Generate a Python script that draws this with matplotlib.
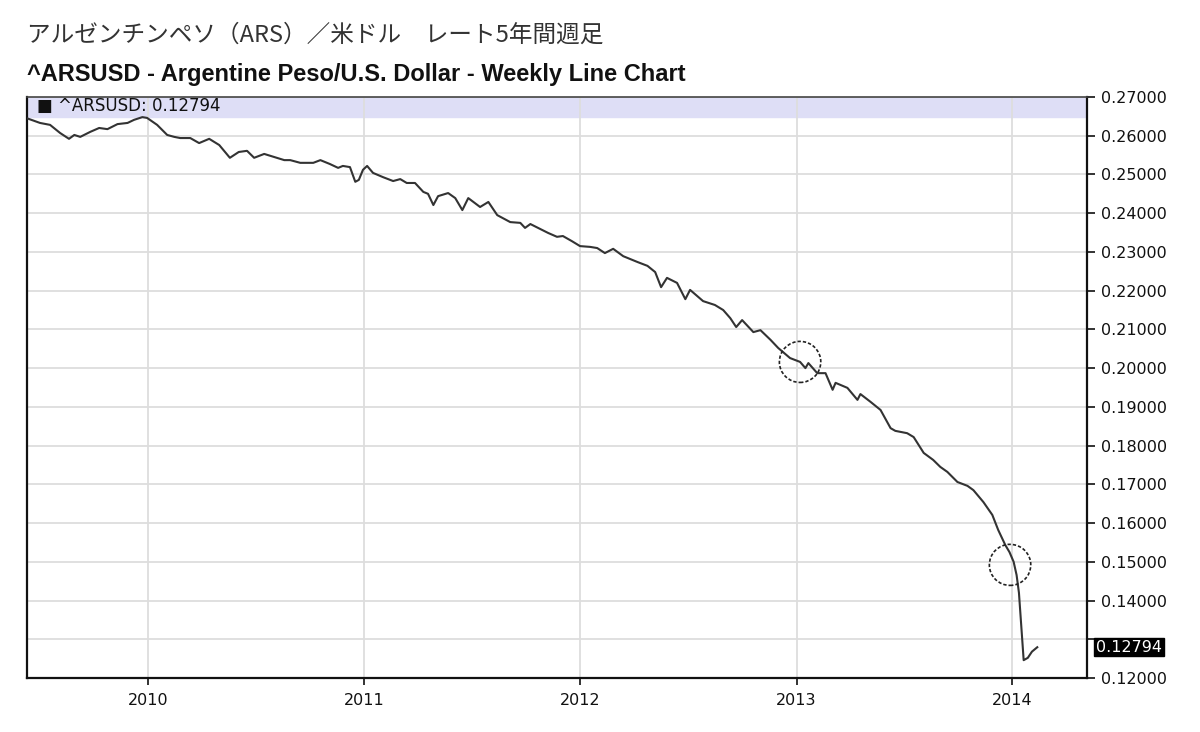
import matplotlib
matplotlib.use('Agg')
import matplotlib.pyplot as plt
import matplotlib.dates as mdates
from matplotlib.patches import Ellipse
from datetime import datetime

# semanas (fechas) y cotizacion ARS/USD
fechas = ['2009-06-10', '2009-07-02', '2009-07-19', '2009-08-05', '2009-08-20', '2009-08-29',
          '2009-09-08', '2009-09-25', '2009-10-10', '2009-10-24', '2009-11-10', '2009-11-27',
          '2009-12-08', '2009-12-22', '2009-12-30', '2010-01-16', '2010-02-02', '2010-02-14',
          '2010-02-24', '2010-03-13', '2010-03-28', '2010-04-14', '2010-05-01', '2010-05-19',
          '2010-06-03', '2010-06-17', '2010-06-29', '2010-07-16', '2010-08-02', '2010-08-19',
          '2010-08-29', '2010-09-15', '2010-10-07', '2010-10-19', '2010-11-04', '2010-11-18',
          '2010-11-26', '2010-12-08', '2010-12-17', '2010-12-23', '2010-12-30', '2011-01-06',
          '2011-01-16', '2011-02-02', '2011-02-19', '2011-03-03', '2011-03-14', '2011-03-28',
          '2011-04-11', '2011-04-19', '2011-04-28', '2011-05-06', '2011-05-23', '2011-06-04',
          '2011-06-16', '2011-06-26', '2011-07-16', '2011-07-30', '2011-08-14', '2011-09-05',
          '2011-09-22', '2011-09-30', '2011-10-09', '2011-10-26', '2011-11-08', '2011-11-23',
          '2011-12-03', '2011-12-18', '2012-01-01', '2012-01-18', '2012-01-30', '2012-02-12',
          '2012-02-26', '2012-03-14', '2012-04-07', '2012-04-24', '2012-05-07', '2012-05-17',
          '2012-05-27', '2012-06-13', '2012-06-27', '2012-07-05', '2012-07-27', '2012-08-16',
          '2012-08-30', '2012-09-11', '2012-09-21', '2012-10-01', '2012-10-20', '2012-11-01',
          '2012-11-18', '2012-12-01', '2012-12-21', '2013-01-07', '2013-01-16', '2013-01-21',
          '2013-02-05', '2013-02-19', '2013-03-03', '2013-03-08', '2013-03-28', '2013-04-14',
          '2013-04-19', '2013-05-06', '2013-05-23', '2013-06-09', '2013-06-17', '2013-07-07',
          '2013-07-18', '2013-08-04', '2013-08-20', '2013-09-01', '2013-09-13', '2013-09-30',
          '2013-10-17', '2013-10-27', '2013-11-13', '2013-11-28', '2013-12-08', '2013-12-20',
          '2013-12-27', '2014-01-03', '2014-01-08', '2014-01-12', '2014-01-20', '2014-01-27',
          '2014-02-03', '2014-02-12']
valores = [0.2645, 0.2633, 0.2628, 0.2607, 0.2592, 0.2602,
           0.2597, 0.2610, 0.2620, 0.2617, 0.2630, 0.2633,
           0.2641, 0.2648, 0.2646, 0.2628, 0.2602, 0.2597,
           0.2594, 0.2594, 0.2581, 0.2592, 0.2576, 0.2543,
           0.2558, 0.2561, 0.2543, 0.2553, 0.2545, 0.2537,
           0.2537, 0.2530, 0.2530, 0.2537, 0.2527, 0.2517,
           0.2522, 0.2519, 0.2481, 0.2486, 0.2512, 0.2522,
           0.2504, 0.2493, 0.2483, 0.2488, 0.2478, 0.2478,
           0.2455, 0.2450, 0.2421, 0.2444, 0.2452, 0.2439,
           0.2408, 0.2439, 0.2416, 0.2429, 0.2395, 0.2377,
           0.2375, 0.2362, 0.2372, 0.2359, 0.2349, 0.2339,
           0.2341, 0.2328, 0.2315, 0.2313, 0.2310, 0.2297,
           0.2308, 0.2289, 0.2274, 0.2264, 0.2248, 0.2209,
           0.2233, 0.2220, 0.2178, 0.2202, 0.2173, 0.2163,
           0.2150, 0.2129, 0.2106, 0.2124, 0.2093, 0.2098,
           0.2073, 0.2052, 0.2026, 0.2016, 0.2000, 0.2013,
           0.1987, 0.1987, 0.1944, 0.1962, 0.1949, 0.1918,
           0.1933, 0.1913, 0.1892, 0.1845, 0.1838, 0.1832,
           0.1822, 0.1781, 0.1763, 0.1745, 0.1732, 0.1706,
           0.1696, 0.1685, 0.1654, 0.1621, 0.1582, 0.1543,
           0.1525, 0.1500, 0.1466, 0.1420, 0.1246, 0.1252,
           0.1268, 0.12794]

ultimo = 0.12794
ticks_y = [0.12, 0.13, 0.14, 0.15, 0.16, 0.17, 0.18, 0.19, 0.20,
           0.21, 0.22, 0.23, 0.24, 0.25, 0.26, 0.27]
anios = ['2010-01-01', '2011-01-01', '2012-01-01', '2013-01-01', '2014-01-01']
# circulos marcados a mano: (fecha centro, valor centro)
circulos = [('2013-01-07', 0.2016), ('2013-12-28', 0.1492)]

titulo = 'アルゼンチンペソ（ARS）／米ドル　レート5年間週足'
subtitulo = '^ARSUSD - Argentine Peso/U.S. Dollar - Weekly Line Chart'

x = [datetime.strptime(f, '%Y-%m-%d') for f in fechas]

fig = plt.figure(figsize=(12, 7.32), dpi=100)
ax = fig.add_axes([0.0225, 0.0738, 0.8833, 0.7937])

ax.axhspan(0.2648, 0.27, color='#dedef6', zorder=0)
ax.plot(x, valores, color='#333333', linewidth=1.5, zorder=3)

for fc, vc in circulos:
    e = Ellipse((mdates.date2num(datetime.strptime(fc, '%Y-%m-%d')), vc),
                width=70, height=0.0106, fill=False, edgecolor='#222222',
                linewidth=1.2, linestyle=(0, (2, 1.2)), zorder=4)
    ax.add_patch(e)

ax.set_xlim(datetime(2009, 6, 10), datetime(2014, 5, 7))
ax.set_ylim(0.12, 0.27)

ax.yaxis.tick_right()
ax.set_yticks(ticks_y)
ax.set_yticklabels(['' if abs(t - 0.13) < 1e-9 else '%.5f' % t for t in ticks_y])
ax.set_xticks([datetime.strptime(a, '%Y-%m-%d') for a in anios])
ax.xaxis.set_major_formatter(mdates.DateFormatter('%Y'))
ax.tick_params(axis='y', direction='out', length=6, width=1.2, labelsize=11.5,
               pad=4, colors='#111111')
ax.tick_params(axis='x', direction='out', length=5, width=1.2, labelsize=11.5,
               pad=6, colors='#111111')
ax.grid(True, color='#dddddd', linewidth=1.3, zorder=1)
for s in ['left', 'bottom', 'right']:
    ax.spines[s].set_linewidth(1.6)
    ax.spines[s].set_color('#111111')
ax.spines['top'].set_linewidth(1.2)
ax.spines['top'].set_color('#444444')

ax.text(0.009, 0.984, '■ ^ARSUSD: ' + ('%.5f' % ultimo), transform=ax.transAxes,
        ha='left', va='center', fontsize=12, color='#111111')

ax.annotate('%.5f' % ultimo, xy=(1.0, ultimo), xycoords=('axes fraction', 'data'),
            xytext=(9, 0), textcoords='offset pixels', ha='left', va='center',
            fontsize=11.5, color='white',
            bbox=dict(boxstyle='square,pad=0.1', facecolor='black', edgecolor='black'))

fig.text(0.0225, 0.952, titulo, fontsize=17, color='#333333', ha='left', va='center',
         family=['Noto Sans CJK JP', 'DejaVu Sans'])
fig.text(0.0225, 0.898, subtitulo, fontsize=17, fontweight='bold', color='#111111',
         ha='left', va='center', family='Liberation Sans')

fig.savefig('out.png', dpi=100)
